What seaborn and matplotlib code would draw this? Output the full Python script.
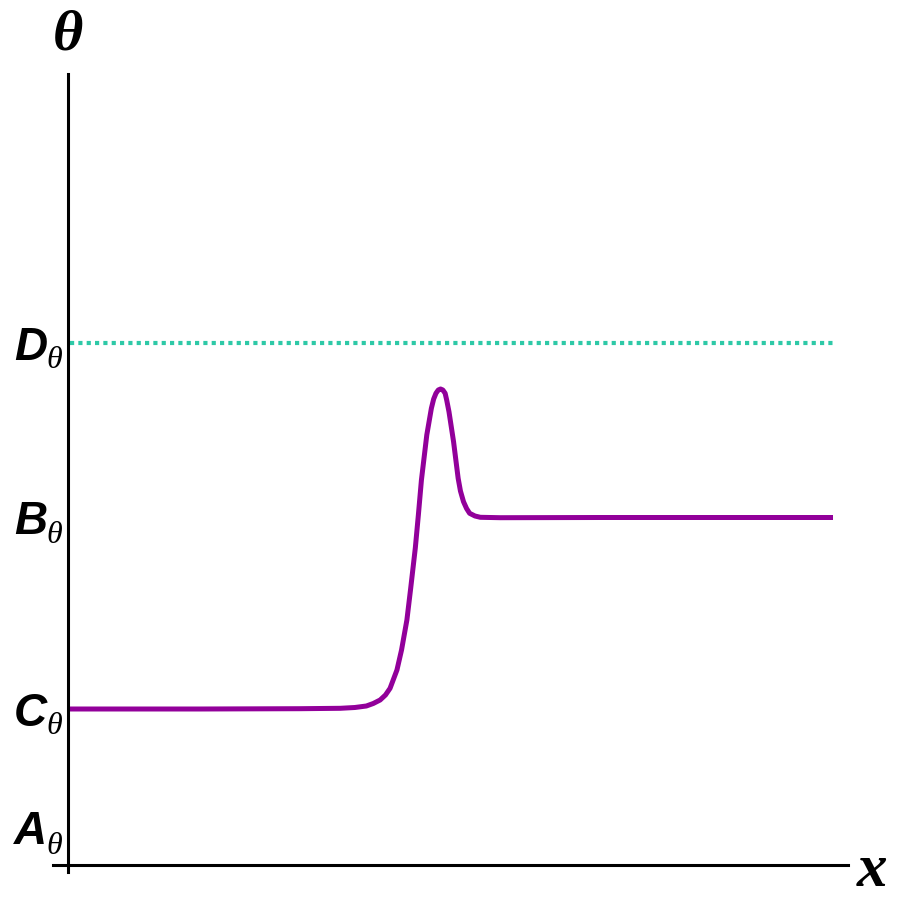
import pandas as pd
import matplotlib
matplotlib.use("Agg")
import matplotlib.pyplot as plt
import matplotlib.transforms as mtransforms
import seaborn as sns

sns.set_style("white")
plt.rcParams['font.family'] = ['Liberation Serif', 'DejaVu Sans']
plt.rcParams['text.color'] = 'black'

# curve
x_vals = [0.00, 1.73, 3.03, 3.56, 3.75, 3.90, 3.99, 4.08, 4.15, 4.21, 4.30, 4.36,
          4.43, 4.48, 4.54, 4.58, 4.62, 4.69, 4.75, 4.78, 4.81, 4.84, 4.87, 4.90,
          4.93, 4.95, 4.98, 5.04, 5.10, 5.13, 5.17, 5.21, 5.25, 5.32, 5.39, 5.65,
          6.95, 10.00]
theta_vals = [1.56, 1.56, 1.563, 1.567, 1.575, 1.59, 1.615, 1.65, 1.70, 1.767, 1.95, 2.15,
              2.45, 2.77, 3.17, 3.50, 3.85, 4.30, 4.567, 4.66, 4.717, 4.75, 4.76, 4.75,
              4.717, 4.65, 4.533, 4.233, 3.867, 3.74, 3.633, 3.565, 3.517, 3.49, 3.477, 3.473,
              3.475, 3.475]

# horizontal reference level
d_x = [0.03, 10.00]
d_level = [5.22, 5.22]

tick_values = [0.37, 1.56, 3.475, 5.22]
tick_letters = ['A', 'C', 'B', 'D']

df = pd.DataFrame({'x': x_vals, 'theta': theta_vals})
df_d = pd.DataFrame({'x': d_x, 'theta': d_level})

fig = plt.figure(figsize=(9, 9), dpi=100)
ax = fig.add_axes([53 / 900, 28 / 900, 795 / 900, 798 / 900])

sns.lineplot(data=df_d, x='x', y='theta', ax=ax, color='#2ec9a7', linewidth=3)
ax.lines[-1].set_dashes((1, 1))
sns.lineplot(data=df, x='x', y='theta', ax=ax, color='#92009a', linewidth=3.6,
             sort=False)
ax.lines[-1].set_solid_joinstyle('round')
ax.lines[-1].set_solid_capstyle('butt')

ax.set_xlim(-0.196, 10.196)
ax.set_ylim(-0.07, 7.91)

for side in ['top', 'right']:
    ax.spines[side].set_visible(False)
for side in ['left', 'bottom']:
    ax.spines[side].set_position(('data', 0))
    ax.spines[side].set_linewidth(2.2)
    ax.spines[side].set_color('black')

ax.set_xticks([])
ax.set_yticks([])
ax.set_xlabel('')
ax.set_ylabel('')

# level labels: bold italic sans capital with a serif theta subscript
base = ax.get_yaxis_transform()
letter_tr = mtransforms.offset_copy(base, fig=fig, x=0, y=-16.5, units='dots')
sub_tr = mtransforms.offset_copy(base, fig=fig, x=0, y=-25.5, units='dots')
lx = (47 - 53) / 795
for val, letter in zip(tick_values, tick_letters):
    ax.text(lx, val, letter, transform=letter_tr, ha='right', va='baseline',
            fontsize=33, fontweight='bold', fontstyle='italic',
            family='Liberation Sans', clip_on=False)
    ax.text(lx - 0.001, val, 'θ', transform=sub_tr, ha='left', va='baseline',
            fontsize=23, fontstyle='italic', family='Liberation Serif',
            clip_on=False)

fig.text(68 / 900, 1 - 36 / 900, 'θ', ha='center', va='center', fontsize=42,
         fontweight='bold', fontstyle='italic', family='Liberation Serif')
fig.text(872 / 900, 1 - 871 / 900, 'x', ha='center', va='center', fontsize=44,
         fontweight='bold', fontstyle='italic', family='Liberation Serif')

fig.savefig('out.png', dpi=100)
